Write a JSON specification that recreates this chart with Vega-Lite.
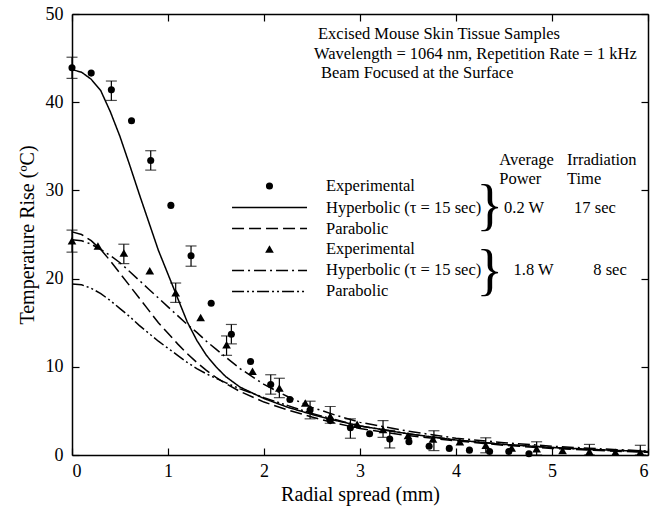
{
  "$schema": "https://vega.github.io/schema/vega-lite/v6.json",
  "width": 576,
  "height": 441,
  "autosize": {"type": "none"},
  "padding": {"left": 72, "top": 14, "right": 17, "bottom": 53},
  "background": "white",
  "config": {
    "font": "Liberation Serif",
    "view": {"stroke": null},
    "style": {"guide-label": {"font": "Liberation Serif"}, "guide-title": {"font": "Liberation Serif"}},
    "axis": {
      "grid": false,
      "domainColor": "black",
      "domainWidth": 1.5,
      "tickColor": "black",
      "tickWidth": 1.2,
      "tickSize": -7,
      "labelColor": "black",
      "titleColor": "black",
      "labelFont": "Liberation Serif",
      "titleFont": "Liberation Serif",
      "labelFontSize": 18,
      "titleFontSize": 20,
      "titleFontWeight": "normal"
    },
    "text": {"font": "Liberation Serif", "fontSize": 16.5, "color": "black"}
  },
  "datasets": {
    "curves": [
      {"s": "H02", "x": 0, "y": 43.7}, {"s": "H02", "x": 0.1, "y": 43.4}, {"s": "H02", "x": 0.2, "y": 42.6}, {"s": "H02", "x": 0.3, "y": 41.3},
      {"s": "H02", "x": 0.4, "y": 38.9}, {"s": "H02", "x": 0.5, "y": 36.1}, {"s": "H02", "x": 0.6, "y": 32.9}, {"s": "H02", "x": 0.7, "y": 29.6},
      {"s": "H02", "x": 0.8, "y": 26.4}, {"s": "H02", "x": 0.9, "y": 23.2}, {"s": "H02", "x": 1.0, "y": 20.5}, {"s": "H02", "x": 1.1, "y": 17.8},
      {"s": "H02", "x": 1.2, "y": 15.1}, {"s": "H02", "x": 1.3, "y": 13.0}, {"s": "H02", "x": 1.4, "y": 11.3}, {"s": "H02", "x": 1.5, "y": 10.0},
      {"s": "H02", "x": 1.6, "y": 8.9}, {"s": "H02", "x": 1.75, "y": 7.7}, {"s": "H02", "x": 2.0, "y": 6.4}, {"s": "H02", "x": 2.25, "y": 5.4},
      {"s": "H02", "x": 2.5, "y": 4.6}, {"s": "H02", "x": 2.75, "y": 3.9}, {"s": "H02", "x": 3.0, "y": 3.3}, {"s": "H02", "x": 3.5, "y": 2.4},
      {"s": "H02", "x": 4.0, "y": 1.7}, {"s": "H02", "x": 4.5, "y": 1.2}, {"s": "H02", "x": 5.0, "y": 0.85}, {"s": "H02", "x": 5.5, "y": 0.6}, {"s": "H02", "x": 6.0, "y": 0.4},
      {"s": "P02", "x": 0, "y": 25.3}, {"s": "P02", "x": 0.1, "y": 25.0}, {"s": "P02", "x": 0.2, "y": 24.3}, {"s": "P02", "x": 0.3, "y": 23.3},
      {"s": "P02", "x": 0.4, "y": 22.0}, {"s": "P02", "x": 0.5, "y": 20.6}, {"s": "P02", "x": 0.6, "y": 19.2}, {"s": "P02", "x": 0.7, "y": 17.8},
      {"s": "P02", "x": 0.8, "y": 16.4}, {"s": "P02", "x": 0.9, "y": 15.0}, {"s": "P02", "x": 1.0, "y": 13.8}, {"s": "P02", "x": 1.1, "y": 12.6},
      {"s": "P02", "x": 1.2, "y": 11.5}, {"s": "P02", "x": 1.3, "y": 10.5}, {"s": "P02", "x": 1.4, "y": 9.6}, {"s": "P02", "x": 1.5, "y": 8.8},
      {"s": "P02", "x": 1.6, "y": 8.1}, {"s": "P02", "x": 1.75, "y": 7.2}, {"s": "P02", "x": 2.0, "y": 6.0}, {"s": "P02", "x": 2.25, "y": 5.1},
      {"s": "P02", "x": 2.5, "y": 4.3}, {"s": "P02", "x": 2.75, "y": 3.6}, {"s": "P02", "x": 3.0, "y": 3.0}, {"s": "P02", "x": 3.5, "y": 2.2},
      {"s": "P02", "x": 4.0, "y": 1.6}, {"s": "P02", "x": 4.5, "y": 1.1}, {"s": "P02", "x": 5.0, "y": 0.75}, {"s": "P02", "x": 5.5, "y": 0.5}, {"s": "P02", "x": 6.0, "y": 0.3},
      {"s": "H18", "x": 0, "y": 24.4}, {"s": "H18", "x": 0.1, "y": 24.3}, {"s": "H18", "x": 0.2, "y": 23.9}, {"s": "H18", "x": 0.3, "y": 23.3},
      {"s": "H18", "x": 0.4, "y": 22.6}, {"s": "H18", "x": 0.5, "y": 21.8}, {"s": "H18", "x": 0.6, "y": 20.8}, {"s": "H18", "x": 0.7, "y": 19.8},
      {"s": "H18", "x": 0.8, "y": 18.8}, {"s": "H18", "x": 0.9, "y": 17.8}, {"s": "H18", "x": 1.0, "y": 16.8}, {"s": "H18", "x": 1.1, "y": 15.8},
      {"s": "H18", "x": 1.2, "y": 14.8}, {"s": "H18", "x": 1.3, "y": 13.9}, {"s": "H18", "x": 1.4, "y": 12.9}, {"s": "H18", "x": 1.5, "y": 12.0},
      {"s": "H18", "x": 1.6, "y": 11.1}, {"s": "H18", "x": 1.75, "y": 9.8}, {"s": "H18", "x": 2.0, "y": 8.0}, {"s": "H18", "x": 2.25, "y": 6.6},
      {"s": "H18", "x": 2.5, "y": 5.4}, {"s": "H18", "x": 2.75, "y": 4.5}, {"s": "H18", "x": 3.0, "y": 3.7}, {"s": "H18", "x": 3.5, "y": 2.7},
      {"s": "H18", "x": 4.0, "y": 1.9}, {"s": "H18", "x": 4.5, "y": 1.4}, {"s": "H18", "x": 5.0, "y": 1.0}, {"s": "H18", "x": 5.5, "y": 0.7}, {"s": "H18", "x": 6.0, "y": 0.45},
      {"s": "P18", "x": 0, "y": 19.4}, {"s": "P18", "x": 0.1, "y": 19.3}, {"s": "P18", "x": 0.2, "y": 18.9}, {"s": "P18", "x": 0.3, "y": 18.3},
      {"s": "P18", "x": 0.4, "y": 17.5}, {"s": "P18", "x": 0.5, "y": 16.6}, {"s": "P18", "x": 0.6, "y": 15.7}, {"s": "P18", "x": 0.7, "y": 14.7},
      {"s": "P18", "x": 0.8, "y": 13.8}, {"s": "P18", "x": 0.9, "y": 12.9}, {"s": "P18", "x": 1.0, "y": 12.1}, {"s": "P18", "x": 1.1, "y": 11.3},
      {"s": "P18", "x": 1.2, "y": 10.5}, {"s": "P18", "x": 1.3, "y": 9.8}, {"s": "P18", "x": 1.4, "y": 9.2}, {"s": "P18", "x": 1.5, "y": 8.7},
      {"s": "P18", "x": 1.6, "y": 8.2}, {"s": "P18", "x": 1.75, "y": 7.5}, {"s": "P18", "x": 2.0, "y": 6.5}, {"s": "P18", "x": 2.25, "y": 5.6},
      {"s": "P18", "x": 2.5, "y": 4.7}, {"s": "P18", "x": 2.75, "y": 4.0}, {"s": "P18", "x": 3.0, "y": 3.3}, {"s": "P18", "x": 3.5, "y": 2.4},
      {"s": "P18", "x": 4.0, "y": 1.7}, {"s": "P18", "x": 4.5, "y": 1.2}, {"s": "P18", "x": 5.0, "y": 0.85}, {"s": "P18", "x": 5.5, "y": 0.55}, {"s": "P18", "x": 6.0, "y": 0.35}
    ],
    "legendLines": [
      {"s": "H02", "x": 1.667, "y": 28.06}, {"s": "H02", "x": 2.448, "y": 28.06},
      {"s": "P02", "x": 1.667, "y": 25.68}, {"s": "P02", "x": 2.448, "y": 25.68},
      {"s": "H18", "x": 1.667, "y": 20.92}, {"s": "H18", "x": 2.448, "y": 20.92},
      {"s": "P18", "x": 1.667, "y": 18.54}, {"s": "P18", "x": 2.448, "y": 18.54}
    ],
    "points": [
      {"g": "0.2 W", "x": 0, "y": 43.9}, {"g": "0.2 W", "x": 0.2, "y": 43.3}, {"g": "0.2 W", "x": 0.41, "y": 41.4}, {"g": "0.2 W", "x": 0.62, "y": 37.9},
      {"g": "0.2 W", "x": 0.82, "y": 33.4}, {"g": "0.2 W", "x": 1.03, "y": 28.3}, {"g": "0.2 W", "x": 1.24, "y": 22.6}, {"g": "0.2 W", "x": 1.45, "y": 17.2},
      {"g": "0.2 W", "x": 1.66, "y": 13.7}, {"g": "0.2 W", "x": 1.86, "y": 10.6}, {"g": "0.2 W", "x": 2.07, "y": 8.0}, {"g": "0.2 W", "x": 2.27, "y": 6.3},
      {"g": "0.2 W", "x": 2.48, "y": 5.1}, {"g": "0.2 W", "x": 2.69, "y": 3.9}, {"g": "0.2 W", "x": 2.9, "y": 3.1}, {"g": "0.2 W", "x": 3.1, "y": 2.4},
      {"g": "0.2 W", "x": 3.31, "y": 1.8}, {"g": "0.2 W", "x": 3.51, "y": 1.5}, {"g": "0.2 W", "x": 3.72, "y": 1.0}, {"g": "0.2 W", "x": 3.93, "y": 0.75},
      {"g": "0.2 W", "x": 4.14, "y": 0.55}, {"g": "0.2 W", "x": 4.35, "y": 0.4}, {"g": "0.2 W", "x": 4.55, "y": 0.4}, {"g": "0.2 W", "x": 4.76, "y": 0.15},
      {"g": "1.8 W", "x": 0, "y": 24.3}, {"g": "1.8 W", "x": 0.27, "y": 23.7}, {"g": "1.8 W", "x": 0.54, "y": 22.9}, {"g": "1.8 W", "x": 0.81, "y": 20.9},
      {"g": "1.8 W", "x": 1.08, "y": 18.4}, {"g": "1.8 W", "x": 1.34, "y": 15.6}, {"g": "1.8 W", "x": 1.61, "y": 12.5}, {"g": "1.8 W", "x": 1.88, "y": 9.5},
      {"g": "1.8 W", "x": 2.16, "y": 7.6}, {"g": "1.8 W", "x": 2.43, "y": 5.9}, {"g": "1.8 W", "x": 2.69, "y": 4.4}, {"g": "1.8 W", "x": 2.97, "y": 3.5},
      {"g": "1.8 W", "x": 3.24, "y": 2.9}, {"g": "1.8 W", "x": 3.5, "y": 2.2}, {"g": "1.8 W", "x": 3.76, "y": 1.8}, {"g": "1.8 W", "x": 4.04, "y": 1.5},
      {"g": "1.8 W", "x": 4.31, "y": 1.1}, {"g": "1.8 W", "x": 4.58, "y": 0.8}, {"g": "1.8 W", "x": 4.84, "y": 0.7}, {"g": "1.8 W", "x": 5.11, "y": 0.5},
      {"g": "1.8 W", "x": 5.39, "y": 0.4}, {"g": "1.8 W", "x": 5.66, "y": 0.3}, {"g": "1.8 W", "x": 5.92, "y": 0.3}
    ],
    "legendPoints": [
      {"g": "0.2 W", "x": 2.057, "y": 30.5},
      {"g": "1.8 W", "x": 2.057, "y": 23.36}
    ],
    "errors": [
      {"x": 0, "lo": 42.7, "hi": 45.1}, {"x": 0.41, "lo": 40.2, "hi": 42.4}, {"x": 0.82, "lo": 32.3, "hi": 34.5},
      {"x": 1.24, "lo": 21.4, "hi": 23.7}, {"x": 1.66, "lo": 12.6, "hi": 14.8}, {"x": 2.07, "lo": 6.9, "hi": 9.1},
      {"x": 2.48, "lo": 4.1, "hi": 6.1}, {"x": 2.9, "lo": 1.9, "hi": 4.1}, {"x": 3.31, "lo": 0.8, "hi": 2.8},
      {"x": 0, "lo": 23.0, "hi": 25.5}, {"x": 0.54, "lo": 21.7, "hi": 23.9}, {"x": 1.08, "lo": 17.3, "hi": 19.5},
      {"x": 1.61, "lo": 11.3, "hi": 13.5}, {"x": 2.16, "lo": 6.5, "hi": 8.7}, {"x": 2.69, "lo": 3.6, "hi": 5.5},
      {"x": 3.24, "lo": 2.0, "hi": 3.9}, {"x": 3.77, "lo": 0.5, "hi": 2.75}, {"x": 4.31, "lo": 0.25, "hi": 1.95},
      {"x": 4.84, "lo": 0, "hi": 1.5}, {"x": 5.39, "lo": 0, "hi": 1.2}, {"x": 5.92, "lo": 0, "hi": 1.1}
    ],
    "texts": [
      {"t": "Excised Mouse Skin Tissue Samples", "x": 2.5625, "y": 47.73},
      {"t": "Wavelength = 1064 nm, Repetition Rate = 1 kHz", "x": 2.52, "y": 45.52},
      {"t": "Beam Focused at the Surface", "x": 2.594, "y": 43.31},
      {"t": "Average", "x": 4.45, "y": 33.5},
      {"t": "Power", "x": 4.45, "y": 31.25},
      {"t": "Irradiation", "x": 5.156, "y": 33.5},
      {"t": "Time", "x": 5.156, "y": 31.25},
      {"t": "Experimental", "x": 2.646, "y": 30.5},
      {"t": "Hyperbolic (τ = 15 sec)", "x": 2.646, "y": 28.06},
      {"t": "Parabolic", "x": 2.646, "y": 25.68},
      {"t": "Experimental", "x": 2.646, "y": 23.36},
      {"t": "Hyperbolic (τ = 15 sec)", "x": 2.646, "y": 20.92},
      {"t": "Parabolic", "x": 2.646, "y": 18.54},
      {"t": "0.2 W", "x": 4.5, "y": 28.06},
      {"t": "17 sec", "x": 5.23, "y": 28.06},
      {"t": "1.8 W", "x": 4.6, "y": 20.92},
      {"t": "8 sec", "x": 5.43, "y": 20.92}
    ],
    "braces": [
      {"t": "}", "x": 4.35, "y": 28.1},
      {"t": "}", "x": 4.35, "y": 20.75}
    ]
  },
  "layer": [
    {
      "data": {"name": "errors"},
      "mark": {"type": "rule", "color": "black", "strokeWidth": 1.2},
      "encoding": {
        "x": {"field": "x", "type": "quantitative", "scale": {"domain": [0, 6], "nice": false, "zero": false},
              "axis": {"orient": "top", "labels": false, "title": null, "values": [0, 1, 2, 3, 4, 5, 6], "domain": true}},
        "y": {"field": "lo", "type": "quantitative", "scale": {"domain": [0, 50], "nice": false},
              "axis": {"orient": "right", "labels": false, "title": null, "values": [0, 10, 20, 30, 40, 50], "domain": true}},
        "y2": {"field": "hi"}
      }
    },
    {
      "data": {"name": "errors"},
      "mark": {"type": "tick", "orient": "horizontal", "color": "black", "size": 11, "thickness": 1.2},
      "encoding": {
        "x": {"field": "x", "type": "quantitative", "scale": {"domain": [0, 6], "nice": false, "zero": false}, "axis": null},
        "y": {"field": "lo", "type": "quantitative", "scale": {"domain": [0, 50], "nice": false}, "axis": null}
      }
    },
    {
      "data": {"name": "errors"},
      "mark": {"type": "tick", "orient": "horizontal", "color": "black", "size": 11, "thickness": 1.2},
      "encoding": {
        "x": {"field": "x", "type": "quantitative", "scale": {"domain": [0, 6], "nice": false, "zero": false}, "axis": null},
        "y": {"field": "hi", "type": "quantitative", "scale": {"domain": [0, 50], "nice": false}, "axis": null}
      }
    },
    {
      "data": {"name": "curves"},
      "mark": {"type": "line", "color": "black", "strokeWidth": 1.5},
      "encoding": {
        "x": {"field": "x", "type": "quantitative", "scale": {"domain": [0, 6], "nice": false, "zero": false},
              "axis": {"orient": "bottom", "title": "Radial spread (mm)", "values": [0, 1, 2, 3, 4, 5, 6], "labelPadding": 14, "titlePadding": 4, "format": "d",
                       "labelFont": "Liberation Serif", "titleFont": "Liberation Serif", "labelFontSize": 18, "titleFontSize": 20}},
        "y": {"field": "y", "type": "quantitative", "scale": {"domain": [0, 50], "nice": false},
              "axis": {"orient": "left", "title": "Temperature Rise (ºC)", "values": [0, 10, 20, 30, 40, 50], "labelPadding": 16, "titlePadding": 8,
                       "labelFont": "Liberation Serif", "titleFont": "Liberation Serif", "labelFontSize": 18, "titleFontSize": 20}},
        "strokeDash": {"field": "s", "type": "nominal", "legend": null,
              "scale": {"domain": ["H02", "P02", "H18", "P18"], "range": [[1, 0], [12, 5], [12, 4, 2, 4], [12, 3, 2, 3, 2, 3]]}}
      }
    },
    {
      "data": {"name": "legendLines"},
      "mark": {"type": "line", "color": "black", "strokeWidth": 1.5},
      "encoding": {
        "x": {"field": "x", "type": "quantitative", "scale": {"domain": [0, 6], "nice": false, "zero": false}, "axis": null},
        "y": {"field": "y", "type": "quantitative", "scale": {"domain": [0, 50], "nice": false}, "axis": null},
        "strokeDash": {"field": "s", "type": "nominal", "legend": null,
              "scale": {"domain": ["H02", "P02", "H18", "P18"], "range": [[1, 0], [12, 5], [12, 4, 2, 4], [12, 3, 2, 3, 2, 3]]}}
      }
    },
    {
      "data": {"name": "points"},
      "mark": {"type": "point", "filled": true, "color": "black", "opacity": 1},
      "encoding": {
        "x": {"field": "x", "type": "quantitative", "scale": {"domain": [0, 6], "nice": false, "zero": false}, "axis": null},
        "y": {"field": "y", "type": "quantitative", "scale": {"domain": [0, 50], "nice": false}, "axis": null},
        "shape": {"field": "g", "type": "nominal", "legend": null,
              "scale": {"domain": ["0.2 W", "1.8 W"], "range": ["circle", "triangle-up"]}},
        "size": {"field": "g", "type": "nominal", "legend": null,
              "scale": {"domain": ["0.2 W", "1.8 W"], "range": [50, 75]}}
      }
    },
    {
      "data": {"name": "legendPoints"},
      "mark": {"type": "point", "filled": true, "color": "black", "opacity": 1},
      "encoding": {
        "x": {"field": "x", "type": "quantitative", "scale": {"domain": [0, 6], "nice": false, "zero": false}, "axis": null},
        "y": {"field": "y", "type": "quantitative", "scale": {"domain": [0, 50], "nice": false}, "axis": null},
        "shape": {"field": "g", "type": "nominal", "legend": null,
              "scale": {"domain": ["0.2 W", "1.8 W"], "range": ["circle", "triangle-up"]}},
        "size": {"field": "g", "type": "nominal", "legend": null,
              "scale": {"domain": ["0.2 W", "1.8 W"], "range": [50, 75]}}
      }
    },
    {
      "data": {"name": "texts"},
      "mark": {"type": "text", "align": "left", "baseline": "middle", "fontSize": 16.5, "font": "Liberation Serif", "color": "black"},
      "encoding": {
        "x": {"field": "x", "type": "quantitative", "scale": {"domain": [0, 6], "nice": false, "zero": false}, "axis": null},
        "y": {"field": "y", "type": "quantitative", "scale": {"domain": [0, 50], "nice": false}, "axis": null},
        "text": {"field": "t"}
      }
    },
    {
      "data": {"name": "braces"},
      "mark": {"type": "text", "align": "center", "baseline": "middle", "fontSize": 56, "font": "Liberation Serif", "color": "black"},
      "encoding": {
        "x": {"field": "x", "type": "quantitative", "scale": {"domain": [0, 6], "nice": false, "zero": false}, "axis": null},
        "y": {"field": "y", "type": "quantitative", "scale": {"domain": [0, 50], "nice": false}, "axis": null},
        "text": {"field": "t"}
      }
    }
  ],
  "resolve": {"axis": {"x": "independent", "y": "independent"}}
}
